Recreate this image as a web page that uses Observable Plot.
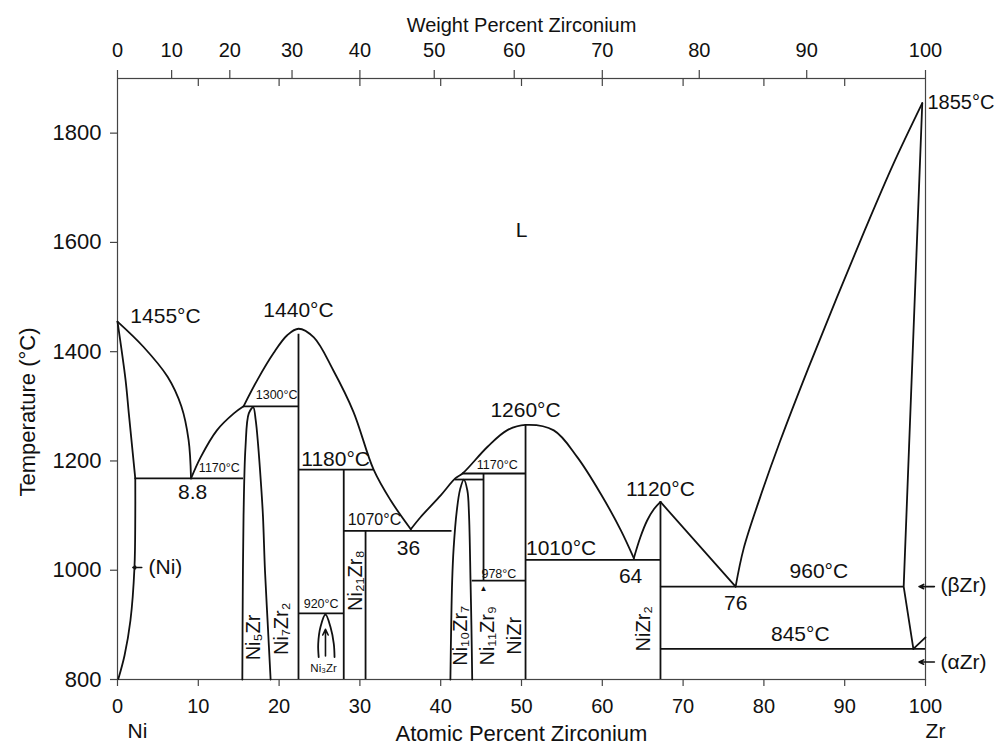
<!DOCTYPE html>
<html><head><meta charset="utf-8">
<script src="https://cdn.jsdelivr.net/npm/d3@7"></script>
<script src="https://cdn.jsdelivr.net/npm/@observablehq/plot@0.6"></script>
<style>body{margin:0;background:#fff}</style>
</head><body><div id="chart"></div>
<script>
// ---- tick labels ----
const tempTicks = [800, 1000, 1200, 1400, 1600, 1800];
const atTicks = [0, 10, 20, 30, 40, 50, 60, 70, 80, 90, 100];
const atInnerTicks = [10, 20, 30, 40, 50, 60, 70, 80, 90];
const wtTickLabels = [0, 10, 20, 30, 40, 50, 60, 70, 80, 90, 100];
const wtTickAt = [0, 6.7, 13.9, 21.6, 30.0, 39.2, 49.1, 60.0, 72.0, 85.3, 100];

// ---- phase boundaries [at.% Zr, °C] ----
const niLiquidus = [[0,1455],[3.2,1409],[6.2,1354],[7.9,1300],[8.8,1238],[9.1,1168]];
const niSolidus = [[0,1455],[1.0,1348],[1.4,1287],[2.2,1168]];
const niSolvus = [[2.2,1168],[2.2,1100],[2.1,1005],[1.6,908],[0.87,844],[0.1,801]];
const liqNi5Zr = [[9.1,1168],[10.3,1207],[12.3,1256],[14.4,1287],[15.6,1300]];
const liqNi7Zr2 = [[15.6,1300],[17.3,1348],[19.3,1397],[21.0,1430],[22.4,1442],[24.3,1426],[26.7,1366],[29.2,1290],[31.7,1184],[33.8,1128],[36.3,1075]];
const liqNiZr = [[36.3,1075],[37.5,1097],[40.0,1137],[41.8,1168],[42.7,1177],[45.8,1226],[48.2,1256],[50.5,1266],[54.0,1256],[56.9,1207],[59.8,1140],[62.3,1073],[63.9,1022]];
const liqNiZr2Left = [[63.9,1022],[64.7,1060],[65.55,1091],[66.4,1112],[67.2,1125]];
const liqNiZr2Right = [[67.2,1125],[76.5,970]];
const liqZr = [[76.5,970],[77.5,1040],[79.5,1132],[82.0,1236],[85.5,1370],[89.0,1498],[92.5,1623],[96.0,1743],[99.6,1855]];
const betaZrSolidus = [[99.6,1855],[97.3,970],[98.5,856]];
const alphaBetaZr = [[98.5,856],[100,877]];
const ni5ZrLens = [[15.45,800],[15.5,950],[15.6,1100],[15.84,1225],[16.25,1287],[16.8,1298],[17.1,1275],[17.4,1230],[17.75,1160],[18.0,1100],[18.25,1000],[18.6,900],[18.95,800]];
const ni3ZrLens = [[24.9,841],[24.84,865],[25.12,896],[25.74,919],[26.36,896],[26.77,865],[26.86,841]];
const ni10Zr7Lens = [[41.2,800],[41.3,900],[41.42,981],[41.6,1040],[42.0,1110],[42.4,1148],[42.86,1166],[43.3,1146],[43.5,1103],[43.69,981],[43.8,900],[43.9,800]];

// isotherms: [T, from, to]
const isotherms = [
  [1168, 2.2, 15.6], [1300, 15.6, 22.4], [1184, 22.4, 31.7], [921, 22.4, 28.0],
  [1072, 28.0, 41.4], [1166, 41.8, 45.3], [1177, 42.7, 50.5], [981, 43.9, 50.5],
  [1019, 50.5, 67.2], [970, 67.2, 97.3], [856, 67.2, 100]
];
// compound lines: [at.%, top T, bottom T]
const compounds = [
  [22.4, 1432, 800], [28.0, 1184, 800], [30.7, 1072, 800],
  [45.3, 1177, 981], [50.5, 1266, 800], [67.2, 1125, 800]
];
// arrows: [x1, T1, x2, T2]
const arrows = [[3.0,1005,1.9,1005],[101.1,970,99.2,970],[101.1,832,99.2,832],[25.74,843,25.74,892]];

// annotations: [text, at.%, T]
const bigLabels = [
  ["1455°C",5.94,1464],["1440°C",22.4,1476],["8.8",9.3,1142],["1180°C",27.0,1204],
  ["36",36.0,1040],["1260°C",50.5,1292],["1010°C",54.9,1040],["64",63.5,989],
  ["1120°C",67.2,1148],["960°C",86.8,999],["76",76.5,939],["845°C",84.5,882],["L",50.0,1622]
];
const midLabels = [["1070°C",31.8,1093]];
const smallLabels = [
  ["1300°C",19.7,1320],["1170°C",12.6,1188],["920°C",25.2,939],["1170°C",47.0,1192],["978°C",47.2,994]
];
const meltLabel = [["1855°C",100,1855]];
const zrPhases = [["(βZr)",100,972],["(αZr)",100,831]];
const niPhase = [["(Ni)",3.84,1005]];
const compoundNames = [
  ["Ni₅Zr",16.8,877],["Ni₇Zr₂",20.3,893],["Ni₂₁Zr₈",29.5,981],["Ni₁₀Zr₇",42.45,880],
  ["Ni₁₁Zr₉",45.8,880],["NiZr",49.1,880],["NiZr₂",65.1,893]
];

const ink = "#111";
const line = (data, curve = "catmull-rom") =>
  Plot.line(data, {x: d => d[0], y: d => d[1], curve, stroke: ink, strokeWidth: 1.8});
const label = (data, opts) => Plot.text(data, {x: d => d[1], y: d => d[2], text: d => d[0], ...opts});

const chart = Plot.plot({
  width: 1008, height: 752,
  marginLeft: 117, marginRight: 83, marginTop: 78, marginBottom: 73,
  x: {domain: [0, 100], axis: null},
  y: {domain: [800, 1900], axis: null},
  style: {fontFamily: "'Liberation Sans', Arial, Helvetica, sans-serif", fontSize: "18px", background: "#fff", color: ink},
  marks: [
    Plot.frame({stroke: "#444", strokeWidth: 1.2}),
    // axes ticks
    Plot.ruleY(tempTicks, {y: d => d, x1: 0, x2: 0, insetLeft: -7, stroke: "#444", strokeWidth: 1.2}),
    Plot.text(tempTicks, {x: 0, y: d => d, text: d => String(d), dx: -16, textAnchor: "end", fontSize: 22}),
    Plot.ruleX(atTicks, {x: d => d, y1: 800, y2: 800, insetBottom: -7, stroke: "#444", strokeWidth: 1.2}),
    Plot.text(atTicks, {x: d => d, y: 800, text: d => String(d), dy: 27, fontSize: 20}),
    Plot.ruleX(atInnerTicks, {x: d => d, y1: 1900, y2: 1900, insetBottom: -8, stroke: "#444", strokeWidth: 1.2}),
    Plot.ruleX(wtTickAt, {x: d => d, y1: 1900, y2: 1900, insetTop: -8, stroke: "#444", strokeWidth: 1.2}),
    Plot.text(wtTickAt, {x: d => d, y: 1900, text: (d, i) => String(wtTickLabels[i]), dy: -28, fontSize: 20}),
    Plot.text(["Weight Percent Zirconium"], {frameAnchor: "top", textAnchor: "middle", dy: -61, fontSize: 20}),
    Plot.text(["Atomic Percent Zirconium"], {frameAnchor: "bottom", textAnchor: "middle", dy: 61, fontSize: 22}),
    Plot.text(["Ni"], {frameAnchor: "bottom-left", textAnchor: "middle", dx: 20, dy: 58, fontSize: 21}),
    Plot.text(["Zr"], {frameAnchor: "bottom-right", textAnchor: "middle", dx: 10, dy: 58, fontSize: 21}),
    Plot.text(["Temperature (°C)"], {frameAnchor: "left", textAnchor: "middle", dx: -90, dy: 33, rotate: -90, fontSize: 22}),
    // phase boundaries
    line(niLiquidus), line(niSolidus), line(niSolvus),
    line(liqNi5Zr), line(liqNi7Zr2), line(liqNiZr),
    line(liqNiZr2Left), line(liqNiZr2Right, "linear"), line(liqZr),
    line(betaZrSolidus, "linear"), line(alphaBetaZr, "linear"),
    line(ni5ZrLens), line(ni3ZrLens), line(ni10Zr7Lens),
    Plot.ruleY(isotherms, {y: d => d[0], x1: d => d[1], x2: d => d[2], stroke: ink, strokeWidth: 1.8}),
    Plot.ruleX(compounds, {x: d => d[0], y1: d => d[1], y2: d => d[2], stroke: ink, strokeWidth: 1.8}),
    Plot.arrow(arrows, {x1: d => d[0], y1: d => d[1], x2: d => d[2], y2: d => d[3], stroke: ink, strokeWidth: 1.6, headLength: 6, headAngle: 50}),
    Plot.text([[45.3, 967]], {x: d => d[0], y: d => d[1], text: () => "▲", fontSize: 8}),
    // labels
    label(bigLabels, {fontSize: 21}),
    label(midLabels, {fontSize: 16}),
    label(smallLabels, {fontSize: 12.5}),
    label(meltLabel, {textAnchor: "start", dx: 2, fontSize: 20}),
    label(zrPhases, {textAnchor: "start", dx: 15, fontSize: 21}),
    label(niPhase, {textAnchor: "start", fontSize: 21}),
    label(compoundNames, {rotate: -90, fontSize: 20}),
    label([["Ni₃Zr", 25.5, 820]], {fontSize: 11.5})
  ]
});
document.getElementById("chart").appendChild(chart);
</script></body></html>
